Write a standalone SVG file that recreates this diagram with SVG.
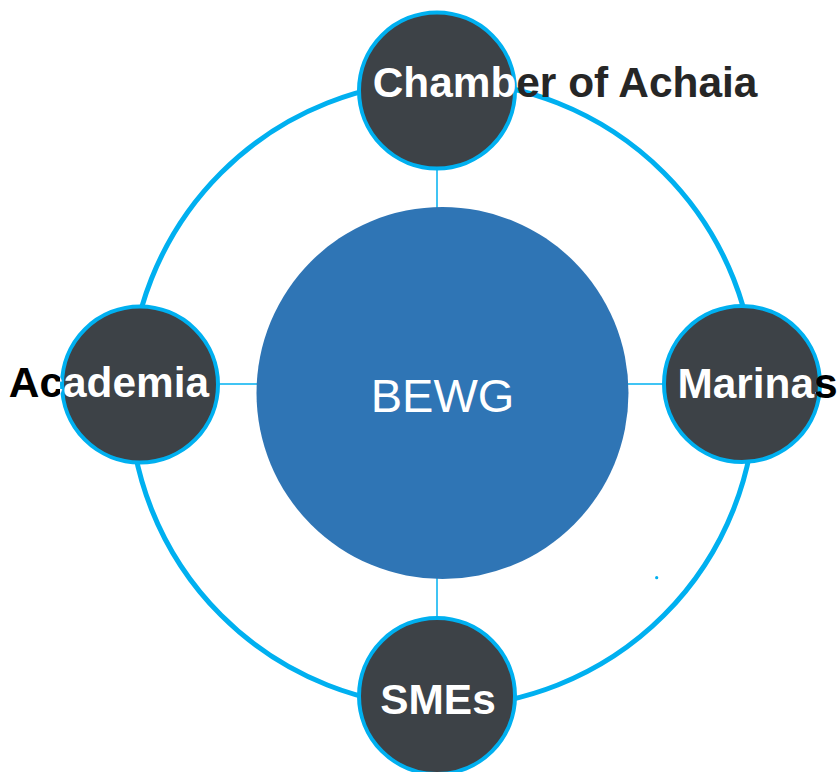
<svg xmlns="http://www.w3.org/2000/svg" width="837" height="772" viewBox="0 0 837 772">
  <style>
    .ring { fill: none; stroke: #00b0f0; stroke-width: 5; }
    .conn { stroke: #00b0f0; stroke-width: 1.5; fill: none; }
    .node { fill: #3d4247; stroke: #00b0f0; stroke-width: 4; }
    .lbl { font-family: "Liberation Sans", Arial, sans-serif; font-weight: bold; font-size: 42.4px; text-anchor: middle; }
    .core { fill: #2f75b5; }
    .coretxt { font-family: "Liberation Sans", Arial, sans-serif; font-size: 47px; fill: #ffffff; text-anchor: middle; }
  </style>
  <defs>
    <linearGradient id="gChamber" gradientUnits="userSpaceOnUse" x1="0" y1="0" x2="837" y2="0">
      <stop offset="0" stop-color="#ffffff"/>
      <stop offset="0.6153" stop-color="#ffffff"/>
      <stop offset="0.6153" stop-color="#262626"/>
      <stop offset="1" stop-color="#262626"/>
    </linearGradient>
    <linearGradient id="gAcademia" gradientUnits="userSpaceOnUse" x1="0" y1="0" x2="837" y2="0">
      <stop offset="0" stop-color="#000000"/>
      <stop offset="0.0717" stop-color="#000000"/>
      <stop offset="0.0717" stop-color="#ffffff"/>
      <stop offset="1" stop-color="#ffffff"/>
    </linearGradient>
    <linearGradient id="gMarinas" gradientUnits="userSpaceOnUse" x1="0" y1="0" x2="837" y2="0">
      <stop offset="0" stop-color="#ffffff"/>
      <stop offset="0.9755" stop-color="#ffffff"/>
      <stop offset="0.9755" stop-color="#000000"/>
      <stop offset="1" stop-color="#000000"/>
    </linearGradient>
  </defs>
  <rect x="0" y="0" width="837" height="772" fill="#ffffff"/>
  <circle class="ring" cx="442.5" cy="394" r="313"/>
  <g id="connectors">
    <line class="conn" x1="437" y1="168" x2="437" y2="209"/>
    <line class="conn" x1="218" y1="384" x2="259" y2="384"/>
    <line class="conn" x1="626" y1="384" x2="664" y2="384"/>
    <line class="conn" x1="437" y1="577" x2="437" y2="619"/>
  </g>
  <g id="bewg">
    <circle class="core" cx="442.5" cy="393" r="186"/>
    <text class="coretxt" x="442.5" y="412">BEWG</text>
  </g>
  <g id="chamber">
    <circle class="node" cx="437" cy="90.5" r="78"/>
    <text class="lbl" x="565" y="97" fill="url(#gChamber)">Chamber of Achaia</text>
  </g>
  <g id="academia">
    <circle class="node" cx="140" cy="384.5" r="78"/>
    <text class="lbl" x="109" y="397" fill="url(#gAcademia)">Academia</text>
  </g>
  <g id="marinas">
    <circle class="node" cx="742" cy="384" r="78"/>
    <text class="lbl" x="757.5" y="398" fill="url(#gMarinas)">Marinas</text>
  </g>
  <g id="smes">
    <circle class="node" cx="437" cy="696" r="78"/>
    <text class="lbl" x="438" y="714" fill="#ffffff">SMEs</text>
  </g>
  <circle cx="656.7" cy="577.7" r="1.6" fill="#00b0f0"/>
</svg>
